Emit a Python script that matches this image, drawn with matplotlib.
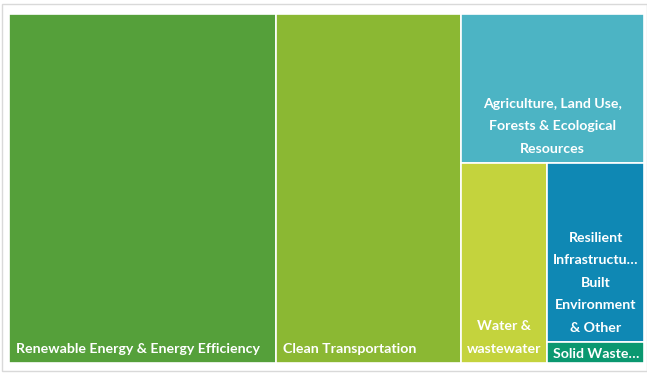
import matplotlib.pyplot as plt
from matplotlib.patches import Rectangle

plt.rcParams["font.family"] = ["Lato", "DejaVu Sans"]

# share of spending by category (%)
categories = [
    "Renewable Energy & Energy Efficiency",
    "Clean Transportation",
    "Agriculture, Land Use,\nForests & Ecological\nResources",
    "Water &\nwastewater",
    "Resilient\nInfrastructu\u2026\nBuilt\nEnvironment\n& Other",
    "Solid Waste\u2026",
]
values = [41.9, 29.1, 12.3, 7.8, 7.8, 0.9]

colors = ["#55a03a", "#8bb833", "#4cb4c4", "#c4d33d", "#0f88b4", "#0a9870"]
# cut direction for each tile: v = take strip from left, h = take strip from top
cuts = ["v", "v", "h", "v", "h", "h"]
label_ha = ["left", "left", "center", "center", "center", "center"]
label_pad = [6, 6, 6, 6, 6, 2]


def slice_layout(vals, x, y, w, h, cuts):
    rects = []
    remaining = sum(vals)
    for v, c in zip(vals, cuts):
        frac = v / remaining
        if c == "v":
            rw = w * frac
            rects.append((x, y, rw, h))
            x += rw
            w -= rw
        else:
            rh = h * frac
            rects.append((x, y + h - rh, w, rh))
            h -= rh
        remaining -= v
    return rects


W, H = 635.0, 349.0
rects = slice_layout(values, 0, 0, W, H, cuts)

fig = plt.figure(figsize=(6.47, 3.74), dpi=100)
fig.patches.append(Rectangle((1.5 / 647, 3.5 / 374), 645 / 647, 367 / 374,
                             transform=fig.transFigure, fill=False,
                             edgecolor="#d9d9d9", linewidth=1))
ax = fig.add_axes([9 / 647, 11 / 374, 635 / 647, 349 / 374])
ax.set_xlim(0, W)
ax.set_ylim(0, H)
ax.axis("off")

for (x, y, w, h), lab, col, ha, pad in zip(rects, categories, colors, label_ha, label_pad):
    ax.add_patch(Rectangle((x, y), w, h, facecolor=col, edgecolor="white", linewidth=1.2))
    if ha == "left":
        tx, dx = x, 5
    else:
        tx, dx = x + w / 2, 0
    ax.annotate(lab, xy=(tx, y), xytext=(dx, pad), textcoords="offset points",
                ha=ha, va="bottom", color="white", fontsize=10.2, fontweight="bold",
                linespacing=2.05, multialignment="center")

fig.savefig("out.png", dpi=100)
